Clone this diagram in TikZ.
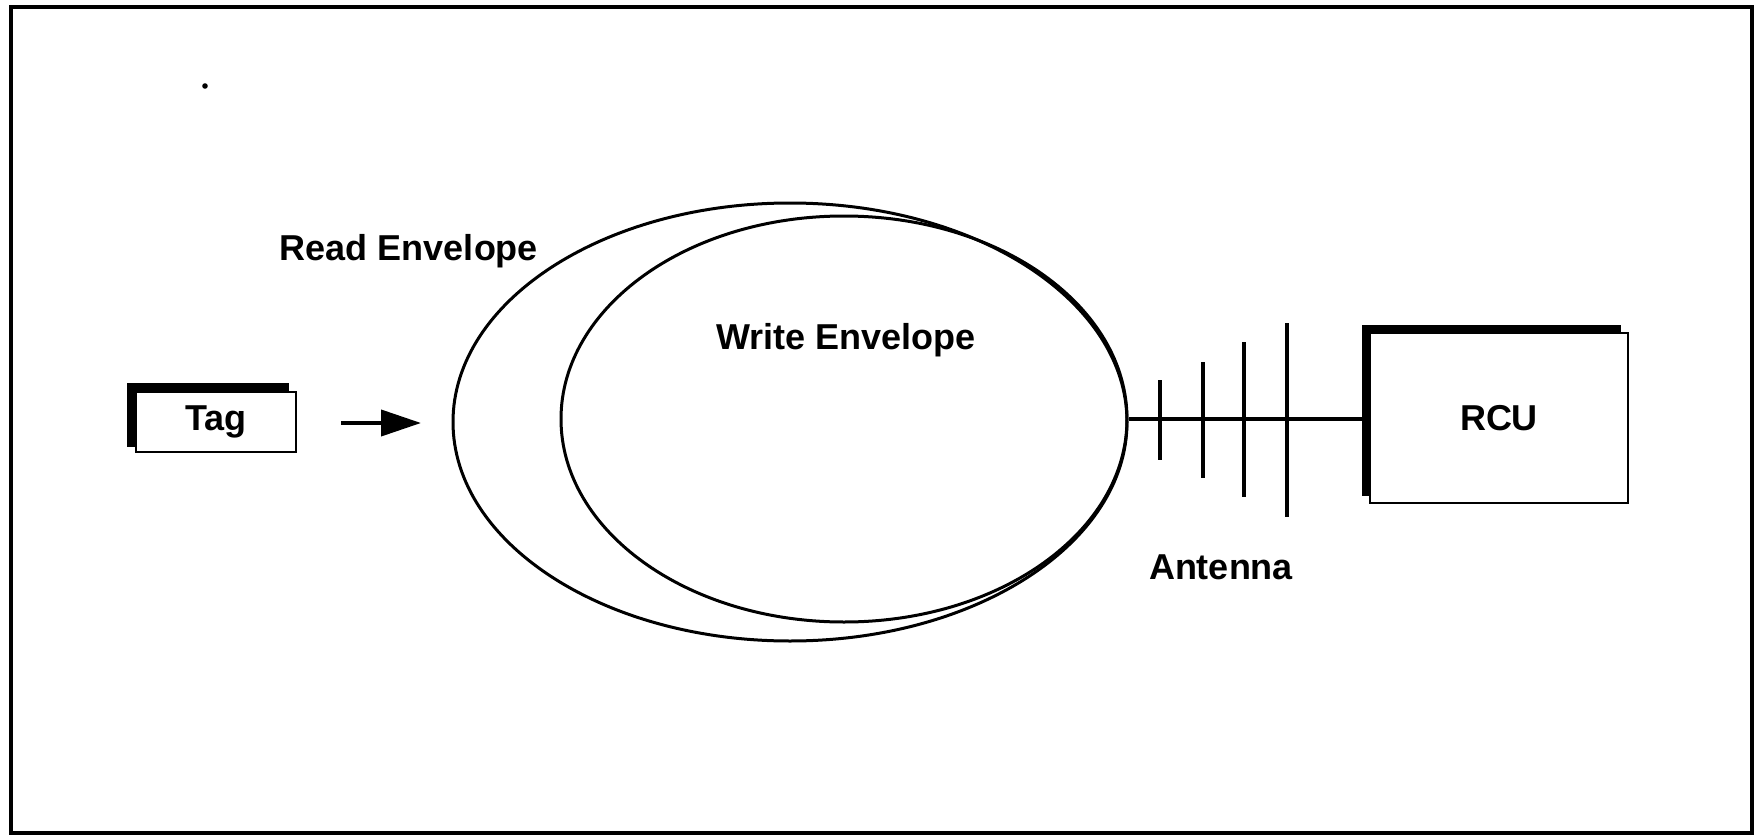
\documentclass[tikz,border=0pt]{standalone}
\usepackage{fontspec}
\setmainfont{Liberation Sans}
\usetikzlibrary{shapes.geometric,arrows.meta}
\begin{document}
\begin{tikzpicture}[x=0.5pt,y=-0.5pt,
  lbl/.style={font=\fontsize{18}{20}\selectfont\bfseries, inner sep=0pt},
  env/.style={ellipse, draw=black, line width=1.5pt, inner sep=0pt},
  shadowbox/.style={rectangle, fill=black, draw=black, inner sep=0pt},
  frontbox/.style={rectangle, fill=white, draw=black, line width=1.2pt, inner sep=0pt, font=\fontsize{18}{20}\selectfont\bfseries},
  bar/.style={line width=2pt},
]
\useasboundingbox (0,0) rectangle (1758,835);
% frame
\draw[line width=1.8pt] (11,7) rectangle (1752,833);
\fill (205,86) circle (1.4pt);

% envelopes
\node[env, minimum width=337pt, minimum height=219pt] (readenv) at (790,422) {};
\node[env, minimum width=283pt, minimum height=203pt] (writeenv) at (844,419) {};
\node[lbl] (readlbl) at (409,251) {Read Envelope};
\node[lbl] (writelbl) at (846,340) {Write Envelope};

% tag
\node[shadowbox, minimum width=80.5pt, minimum height=31.5pt] (tagshadow) at (207.5,414.5) {};
\node[frontbox, minimum width=80pt, minimum height=30pt] (tag) at (216,422) {Tag};

% arrow
\coordinate (arrS) at (341,423);
\coordinate (arrE) at (421,423);
\draw[line width=2pt, -{Triangle[length=20pt,width=13pt]}] (arrS) -- (arrE);

% RCU
\node[shadowbox, minimum width=129pt, minimum height=85pt] (rcushadow) at (1491,410) {};
\node[frontbox, minimum width=129pt, minimum height=85pt] (rcu) at (1499,418) {RCU};

% antenna
\draw[line width=1.6pt] (writeenv.east) -- (writeenv.east -| rcushadow.west);
\draw[bar] (1160,380) -- (1160,460);
\draw[bar] (1203,362) -- (1203,478);
\draw[bar] (1244,342) -- (1244,497);
\draw[bar] (1287,323) -- (1287,517);
\node[lbl] (antlbl) at (1221,567) {Antenna};
\end{tikzpicture}
\end{document}
